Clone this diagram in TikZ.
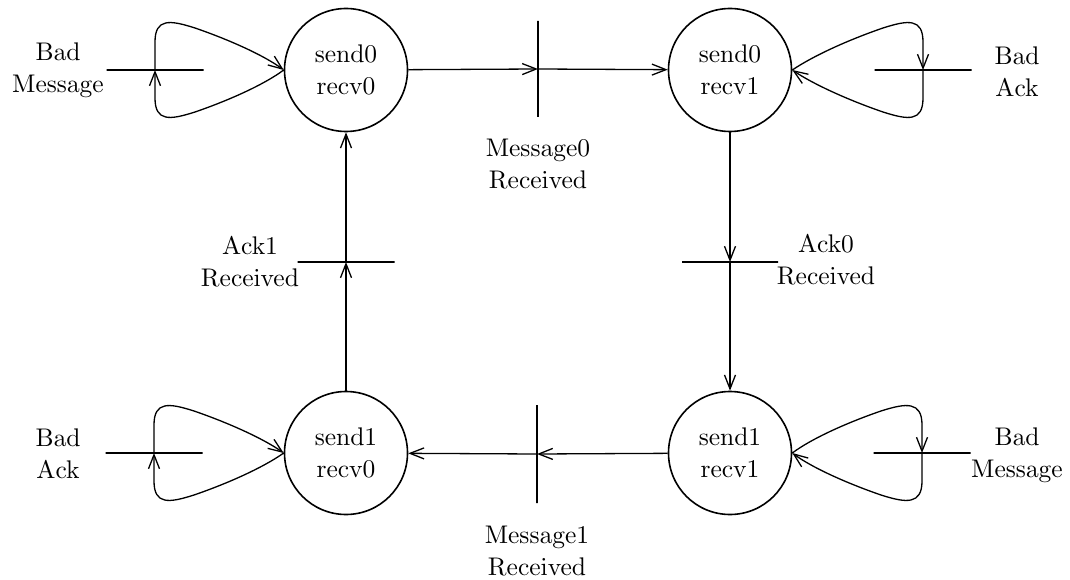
\documentclass[tikz,border=0pt]{standalone}
\usetikzlibrary{arrows.meta}
% text design size 10pt, scaled up to the drawing size
\font\diagrm=cmr10 at 25.5pt
\newcommand\diagfont{\diagrm\baselineskip=32pt\relax}
\tikzset{
  every picture/.style={x=1pt,y=-1pt},
  >={Straight Barb[length=14pt,width=11pt]},
  state/.style={circle, draw, line width=1.6pt, minimum size=123pt,
    inner sep=0pt, align=center, font=\diagfont},
  vbar/.style={draw, line width=1.3pt, minimum width=0pt, inner sep=0pt,
    outer sep=0pt, minimum height=#1},
  hbar/.style={draw, line width=1.3pt, minimum height=0pt, inner sep=0pt,
    outer sep=0pt, minimum width=#1},
  lbl/.style={align=center, font=\diagfont, inner sep=0pt},
  edge line/.style={line width=1.3pt},
  loop line/.style={line width=1.3pt},
}
\begin{document}
\begin{tikzpicture}
\useasboundingbox (0,0) rectangle (1070,580);

% states
\node[state] (A) at (346,70)  {send0\\recv0};
\node[state] (B) at (730,70)  {send0\\recv1};
\node[state] (C) at (346,453) {send1\\recv0};
\node[state] (D) at (730,453) {send1\\recv1};

% transition bars between states
\node[vbar=96pt] (t0) at (538,69)  {};
\node[hbar=96pt] (t1) at (730,262) {};
\node[vbar=98pt] (t2) at (537,454) {};
\node[hbar=97pt] (t3) at (346,262) {};

% transition bars of the self loops
\node[hbar=97pt] (lA) at (155,70)  {};
\node[hbar=97pt] (lB) at (923,70)  {};
\node[hbar=97pt] (lC) at (154,453) {};
\node[hbar=97pt] (lD) at (922,453) {};

% main cycle
\draw[edge line,->] (A) -- (t0);
\draw[edge line,->] (t0) -- (B);
\draw[edge line,->] (B) -- (t1);
\draw[edge line,->] (t1) -- (D);
\draw[edge line,->] (D) -- (t2);
\draw[edge line,->] (t2) -- (C);
\draw[edge line,->] (C) -- (t3);
\draw[edge line,->] (t3) -- (A);

% self loops
\draw[loop line,->] (A.west) .. controls (265,84) and (230,100) .. (195,112)
  .. controls (170,120) and (155,122) .. (155,98) -- (lA.center);
\draw[loop line,->] (lA.center) -- (155,42) .. controls (155,18) and (170,20) .. (195,28)
  .. controls (230,40) and (265,56) .. (A.west);
\draw[loop line,->] (B.east) .. controls (813,56) and (848,40) .. (883,28)
  .. controls (908,20) and (923,18) .. (923,42) -- (lB.center);
\draw[loop line,->] (lB.center) -- (923,98) .. controls (923,122) and (908,120) .. (883,112)
  .. controls (848,100) and (813,84) .. (B.east);
\draw[loop line,->] (C.west) .. controls (264,467) and (229,483) .. (194,495)
  .. controls (169,503) and (154,505) .. (154,481) -- (lC.center);
\draw[loop line,->] (lC.center) -- (154,425) .. controls (154,401) and (169,403) .. (194,411)
  .. controls (229,423) and (264,439) .. (C.west);
\draw[loop line,->] (D.east) .. controls (811,439) and (846,423) .. (881,411)
  .. controls (906,403) and (922,401) .. (922,425) -- (lD.center);
\draw[loop line,->] (lD.center) -- (922,481) .. controls (922,505) and (906,503) .. (881,495)
  .. controls (846,483) and (811,467) .. (D.east);

% labels
\node[lbl] (m0) at (538,164) {Message0\\Received};
\node[lbl] (a0) at (826,260) {Ack0\\Received};
\node[lbl] (m1) at (537,551) {Message1\\Received};
\node[lbl] (a1) at (250,262) {Ack1\\Received};
\node[lbl] (bA) at (58,70)    {Bad\\Message};
\node[lbl] (bB) at (1017,72)  {Bad\\Ack};
\node[lbl] (bC) at (58,454)   {Bad\\Ack};
\node[lbl] (bD) at (1017,455) {Bad\\Message};
\end{tikzpicture}
\end{document}
